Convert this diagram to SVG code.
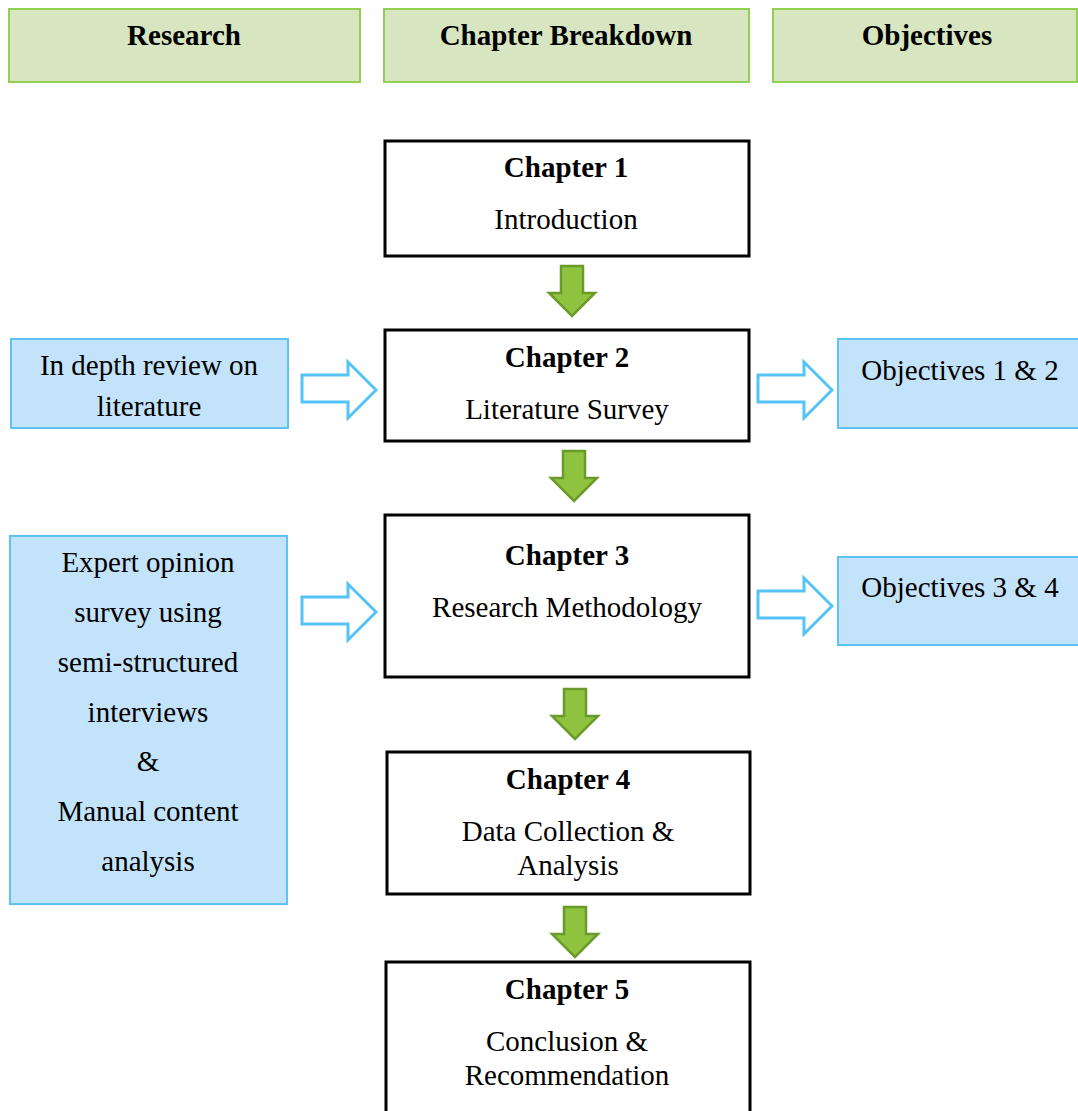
<svg xmlns="http://www.w3.org/2000/svg" width="1078" height="1111" viewBox="0 0 1078 1111">
  <defs>
    <style>
      .hdr { fill: #d7e6c1; stroke: #92d050; stroke-width: 2; }
      .chap { fill: #ffffff; stroke: #000000; stroke-width: 3; }
      .side { fill: #c3e3fa; stroke: #5ec3f3; stroke-width: 2; }
      .t { font-family: "Liberation Serif", "Times New Roman", serif; font-size: 29px; fill: #000; text-anchor: middle; }
      .b { font-weight: bold; }
      .down { fill: #8fc33f; stroke: #6a9a2a; stroke-width: 2.5; stroke-linejoin: miter; }
      .right { fill: #ffffff; stroke: #55c3f5; stroke-width: 3; stroke-linejoin: miter; }
    </style>
    <!-- down block arrow, origin at top-centre of shaft -->
    <path id="downArrow" d="M -11 0 L 11 0 L 11 27 L 23 27 L 0 50 L -23 27 L -11 27 Z"/>
    <!-- right block arrow, origin at tip -->
    <path id="rightArrow" d="M -74 -15 L -28 -15 L -28 -28 L 0 0 L -28 28 L -28 12 L -74 12 Z"/>
  </defs>

  <!-- column headers -->
  <g id="hdr-research">
    <rect class="hdr" x="9" y="9" width="351" height="73"/>
    <text class="t b" x="184" y="45">Research</text>
  </g>
  <g id="hdr-chapters">
    <rect class="hdr" x="384" y="9" width="365" height="73"/>
    <text class="t b" x="566" y="45">Chapter Breakdown</text>
  </g>
  <g id="hdr-objectives">
    <rect class="hdr" x="773" y="9" width="304" height="73"/>
    <text class="t b" x="927" y="45">Objectives</text>
  </g>

  <!-- chapters -->
  <g id="ch1">
    <rect class="chap" x="385" y="141" width="364" height="115"/>
    <text class="t b" x="566" y="177">Chapter 1</text>
    <text class="t" x="566" y="229">Introduction</text>
  </g>
  <g id="ch2">
    <rect class="chap" x="385" y="330" width="364" height="111"/>
    <text class="t b" x="567" y="367">Chapter 2</text>
    <text class="t" x="567" y="419">Literature Survey</text>
  </g>
  <g id="ch3">
    <rect class="chap" x="385" y="515" width="364" height="162"/>
    <text class="t b" x="567" y="565">Chapter 3</text>
    <text class="t" x="567" y="617">Research Methodology</text>
  </g>
  <g id="ch4">
    <rect class="chap" x="387" y="752" width="363" height="142"/>
    <text class="t b" x="568" y="789">Chapter 4</text>
    <text class="t" x="568" y="841">Data Collection &amp;</text>
    <text class="t" x="568" y="875">Analysis</text>
  </g>
  <g id="ch5">
    <rect class="chap" x="386" y="962" width="364" height="160"/>
    <text class="t b" x="567" y="999">Chapter 5</text>
    <text class="t" x="567" y="1051">Conclusion &amp;</text>
    <text class="t" x="567" y="1085">Recommendation</text>
  </g>

  <!-- research inputs -->
  <g id="res-review">
    <rect class="side" x="11" y="339" width="277" height="89"/>
    <text class="t" x="149" y="375">In depth review on</text>
    <text class="t" x="149" y="416">literature</text>
  </g>
  <g id="res-expert">
    <rect class="side" x="10" y="536" width="277" height="368"/>
    <text class="t" x="148" y="572">Expert opinion</text>
    <text class="t" x="148" y="622">survey using</text>
    <text class="t" x="148" y="672">semi-structured</text>
    <text class="t" x="148" y="722">interviews</text>
    <text class="t" x="148" y="771">&amp;</text>
    <text class="t" x="148" y="821">Manual content</text>
    <text class="t" x="148" y="871">analysis</text>
  </g>

  <!-- objectives -->
  <g id="obj-12">
    <rect class="side" x="838" y="339" width="242" height="89"/>
    <text class="t" x="960" y="380">Objectives 1 &amp; 2</text>
  </g>
  <g id="obj-34">
    <rect class="side" x="838" y="557" width="242" height="88"/>
    <text class="t" x="960" y="597">Objectives 3 &amp; 4</text>
  </g>

  <!-- connectors -->
  <g id="connectors">
    <use href="#downArrow" class="down" x="572" y="266"/>
    <use href="#downArrow" class="down" x="574" y="451"/>
    <use href="#downArrow" class="down" x="575" y="689"/>
    <use href="#downArrow" class="down" x="575" y="907"/>
    <use href="#rightArrow" class="right" x="376" y="390"/>
    <use href="#rightArrow" class="right" x="832" y="390"/>
    <use href="#rightArrow" class="right" x="376" y="612"/>
    <use href="#rightArrow" class="right" x="832" y="606"/>
  </g>
</svg>
